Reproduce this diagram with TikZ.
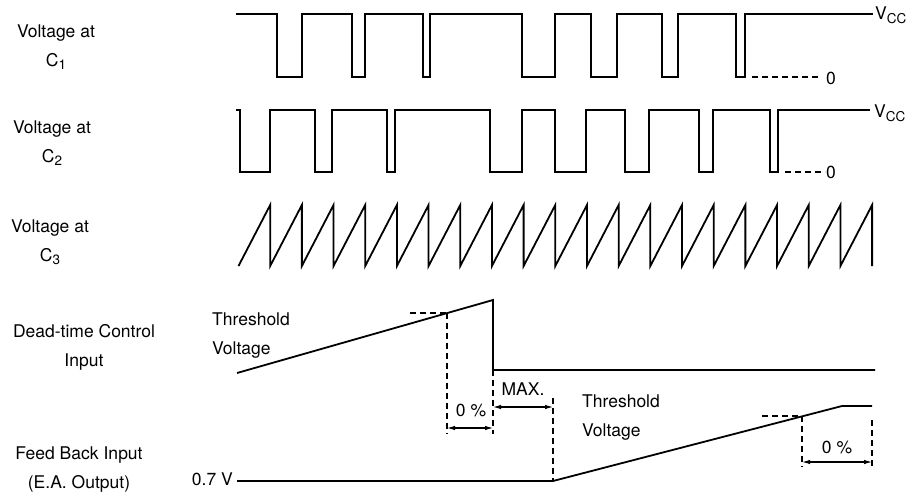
\documentclass[tikz,border=0pt]{standalone}
\usepackage{fontspec}
\setmainfont{TeX Gyre Heros}
\usetikzlibrary{arrows.meta}
\newcommand{\lowtext}[1]{\raisebox{-3.5pt}{\fontsize{13.5}{13.5}\selectfont #1}}
\begin{document}
\begin{tikzpicture}[x=1pt,y=-1pt,
    wave/.style={line width=1.8pt, line join=miter},
    guide/.style={line width=1.1pt, dash pattern=on 6pt off 4pt},
    dimarrow/.style={line width=1.1pt, {Latex[length=8pt,width=4.5pt]}-{Latex[length=8pt,width=4.5pt]}},
    lbl/.style={font=\fontsize{17.5}{29}\selectfont, align=center, inner sep=0pt}]
        \useasboundingbox (0,0) rectangle (913,498);
        % voltage at C1
        \draw [wave] (236,14)
            \foreach \a/\b in {277/302,352/365,423/430,522/555,591/617,662/678,736/745}
            {-- (\a,14) -- (\a,77) -- (\b,77) -- (\b,14)} -- (873,14);
        \draw [guide] (752,77) -- (818,77);
        \path (875,15) node [lbl,anchor=west] (vcca) {V\lowtext{CC}};
        \path (826,78) node [lbl,anchor=west] (zeroa) {0};
        % voltage at C2
        \draw [wave] (236,110)
            \foreach \a/\b in {240/270,315/332,387/395,490/522,555/586,625/649,699/713,770/778}
            {-- (\a,110) -- (\a,172) -- (\b,172) -- (\b,110)} -- (870,110);
        \draw [guide] (785,172) -- (825,172);
        \path (874,113) node [lbl,anchor=west] (vccb) {V\lowtext{CC}};
        \path (826,172) node [lbl,anchor=west] (zerob) {0};
        % voltage at C3
        \draw [wave] (238.5,266)
            \foreach \i in {1,...,20} {-- ++(31.68,-61) -- ++(0,61)};
        % dead-time control input
        \draw [wave] (237,373) -- (493,300) -- (493,370) -- (875,370);
        \draw [guide] (410,313) -- (447,313);
        \draw [guide] (447,313) -- (447,434);
        \draw [guide] (493,370) -- (493,434);
        \draw [guide] (553,398) -- (553,482);
        \coordinate (dla) at (447,428);
        \coordinate (dlb) at (493,428);
        \coordinate (mxa) at (493,407);
        \coordinate (mxb) at (553,407);
        \draw [dimarrow] (dla) -- (dlb);
        \draw [dimarrow] (mxa) -- (mxb);
        \path (471,410) node [lbl] (pcta) {0 \%};
        \path (523,389) node [lbl] (maxl) {MAX.};
        \path (212,336) node [lbl,align=left,anchor=west] (thra) {Threshold\\Voltage};
        % feed back input
        \draw [wave] (237,481) -- (553,481) -- (842,406) -- (872,406);
        \draw [guide] (762,416) -- (802,416);
        \draw [guide] (802,416) -- (802,467);
        \draw [guide] (872,420) -- (872,467);
        \coordinate (dra) at (802,462);
        \coordinate (drb) at (872,462);
        \draw [dimarrow] (dra) -- (drb);
        \path (837,447) node [lbl] (pctb) {0 \%};
        \path (582,418) node [lbl,align=left,anchor=west] (thrb) {Threshold\\Voltage};
        \path (233,479) node [lbl,anchor=east] (vlow) {0.7 V};
        % row labels
        \path (56,47) node [lbl] (rowa) {Voltage at\\C\lowtext{1}};
        \path (52,143) node [lbl] (rowb) {Voltage at\\C\lowtext{2}};
        \path (50,242) node [lbl] (rowc) {Voltage at\\C\lowtext{3}};
        \path (84,347) node [lbl] (rowd) {Dead-time Control\\Input};
        \path (79,470) node [lbl] (rowe) {Feed Back Input\\(E.A. Output)};
    \end{tikzpicture}
\end{document}
